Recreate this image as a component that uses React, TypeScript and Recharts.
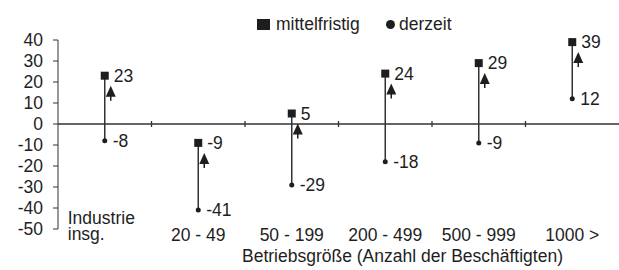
import {
  ScatterChart,
  Scatter,
  XAxis,
  YAxis,
  ReferenceLine,
  ErrorBar,
  Legend,
  Label,
} from 'recharts'

const categories = ['Industrie insg.', '20 - 49', '50 - 199', '200 - 499', '500 - 999', '1000 >']
const mittelfristig = [23, -9, 5, 24, 29, 39]
const derzeit = [-8, -41, -29, -18, -9, 12]
const yTicks = [-50, -40, -30, -20, -10, 0, 10, 20, 30, 40]
const boundaryTicks = [1, 2, 3, 4, 5]
const axisTitle = 'Betriebsgröße (Anzahl der Beschäftigten)'

const FONT = '"Liberation Sans", Arial, Helvetica, sans-serif'
const INK = '#1e1e1e'
const LINE = '#333'
const FS = 17.5

const mittelData = categories.map((name, i) => ({ pos: i + 0.5, name, value: mittelfristig[i] }))
const derzeitData = categories.map((name, i) => ({
  pos: i + 0.5,
  name,
  value: derzeit[i],
  span: [0, mittelfristig[i] - derzeit[i]],
}))
const boundaryData = boundaryTicks.map(pos => ({ pos, value: 0 }))

function SquareMark(props: any) {
  const { cx, cy, payload } = props
  return (
    <g>
      <polygon
        points={`${cx + 6},${cy + 10} ${cx + 1},${cy + 21} ${cx + 11},${cy + 21}`}
        fill={INK}
      />
      <line x1={cx + 6} y1={cy + 20} x2={cx + 6} y2={cy + 25} stroke={INK} strokeWidth={1.5} />
      <rect x={cx - 4} y={cy - 4} width={8} height={8} fill={INK} />
      <text x={cx + 9} y={cy} dy='0.36em' fontSize={FS} fontFamily={FONT} fill={INK}>
        {payload.value}
      </text>
    </g>
  )
}

function DotMark(props: any) {
  const { cx, cy, payload } = props
  return (
    <g>
      <circle cx={cx} cy={cy} r={2.5} fill={INK} />
      <text x={cx + 8} y={cy} dy='0.36em' fontSize={FS} fontFamily={FONT} fill={INK}>
        {payload.value}
      </text>
    </g>
  )
}

function BoundaryTick(props: any) {
  const { cx, cy } = props
  return <line x1={cx} y1={cy - 3} x2={cx} y2={cy + 3} stroke={LINE} strokeWidth={1.3} />
}

function CategoryTick(props: any) {
  const { x, y, payload } = props
  const idx = Math.floor(payload.value)
  const name = categories[idx]
  if (idx === 0) {
    const [a, b] = name.split(' ')
    return (
      <g>
        <text x={x - 37} y={y - 5} fontSize={FS} fontFamily={FONT} fill={INK}>{a}</text>
        <text x={x - 37} y={y + 11} fontSize={FS} fontFamily={FONT} fill={INK}>{b}</text>
      </g>
    )
  }
  return (
    <text x={x} y={y + 12} textAnchor='middle' fontSize={FS} fontFamily={FONT} fill={INK}>
      {name}
    </text>
  )
}

function LegendBox() {
  const txt = { position: 'absolute' as const, top: 14, lineHeight: '20px', fontSize: FS, fontFamily: FONT, color: INK, whiteSpace: 'nowrap' as const }
  return (
    <div style={{ position: 'relative', height: 34, width: 619 }}>
      <span style={{ position: 'absolute', left: 257, top: 19, width: 13, height: 11, background: INK }} />
      <span style={{ ...txt, left: 276 }}>mittelfristig</span>
      <span style={{ position: 'absolute', left: 386, top: 20, width: 9, height: 9, borderRadius: '50%', background: INK }} />
      <span style={{ ...txt, left: 399 }}>derzeit</span>
    </div>
  )
}

export default function App() {
  return (
    <div style={{ position: 'absolute', left: 0, top: 0, width: 619, height: 270, background: '#fff' }}>
      <ScatterChart width={619} height={270} margin={{ top: 40, right: 0, bottom: 0, left: 0 }}>
        <XAxis
          type='number'
          dataKey='pos'
          domain={[0, 6]}
          ticks={categories.map((_, i) => i + 0.5)}
          interval={0}
          height={41}
          axisLine={false}
          tickLine={false}
          tickSize={0}
          tickMargin={0}
          tick={<CategoryTick />}
        >
          <Label
            content={({ viewBox }: any) => (
              <text
                x={viewBox.x + viewBox.width / 2 + 64}
                y={viewBox.y + 33}
                textAnchor='middle'
                fontSize={FS}
                fontFamily={FONT}
                fill={INK}
              >
                {axisTitle}
              </text>
            )}
          />
        </XAxis>
        <YAxis
          type='number'
          dataKey='value'
          domain={[-50, 40]}
          ticks={yTicks}
          interval={0}
          width={58}
          tickSize={5}
          tickMargin={10}
          stroke={LINE}
          tick={{ fontSize: FS, fontFamily: FONT, fill: INK }}
        />
        <ReferenceLine y={0} stroke={LINE} strokeWidth={1.3} />
        <Legend
          layout='horizontal'
          verticalAlign='middle'
          align='center'
          wrapperStyle={{ top: 0, left: 0, width: 619 }}
          content={() => <LegendBox />}
        />
        <Scatter data={boundaryData} dataKey='value' shape={<BoundaryTick />} isAnimationActive={false} legendType='none' />
        <Scatter name='derzeit' data={derzeitData} dataKey='value' shape={<DotMark />} isAnimationActive={false}>
          <ErrorBar dataKey='span' direction='y' width={0} stroke={LINE} strokeWidth={1.5} />
        </Scatter>
        <Scatter name='mittelfristig' data={mittelData} dataKey='value' shape={<SquareMark />} isAnimationActive={false} />
      </ScatterChart>
    </div>
  )
}
